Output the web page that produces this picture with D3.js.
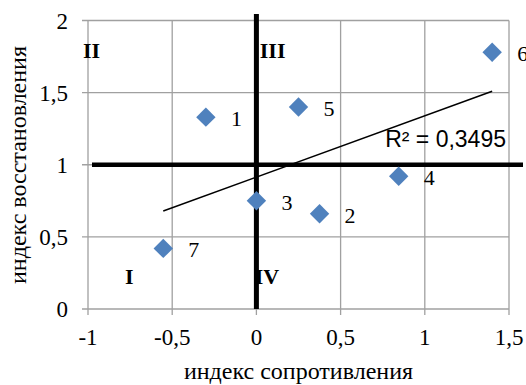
<!DOCTYPE html>
<html>
<head>
<meta charset="utf-8">
<script src="https://cdn.jsdelivr.net/npm/d3@7"></script>
<style>
  body { margin: 0; background: #fff; }
</style>
</head>
<body>
<div id="chart"></div>
<script>
// data
var ids  = ['1', '2', '3', '4', '5', '6', '7']
var xs   = [-0.30, 0.375, 0.0, 0.845, 0.25, 1.40, -0.553]
var ys   = [1.33, 0.66, 0.75, 0.92, 1.40, 1.78, 0.42]
var xTicks = [-1, -0.5, 0, 0.5, 1, 1.5]
var yTicks = [0, 0.5, 1, 1.5, 2]
var quadrants = ['I', 'II', 'III', 'IV']
var r2Label = 'R² = 0,3495'

var W = 526, H = 385
var margin = { top: 20.5, right: 17, bottom: 76, left: 88 }
var w = W - margin.left - margin.right
var h = H - margin.top - margin.bottom

var x = d3.scaleLinear().domain([-1, 1.5]).range([0, w])
var y = d3.scaleLinear().domain([0, 2]).range([h, 0])
var fmt = function (d) { return String(d).replace('.', ',') }
var serif = '"Liberation Serif", "Times New Roman", serif'

var svg = d3.select('#chart').append('svg')
    .attr('width', W)
    .attr('height', H)
    .attr('font-family', serif)
  .append('g')
    .attr('transform', 'translate(' + margin.left + ',' + margin.top + ')')

// grid
svg.selectAll('.gx').data(xTicks).enter().append('line')
    .attr('x1', function (d) { return x(d) }).attr('x2', function (d) { return x(d) })
    .attr('y1', 0).attr('y2', h + 6)
    .attr('stroke', '#a0a0a0').attr('stroke-width', 1.3)
svg.selectAll('.gy').data(yTicks).enter().append('line')
    .attr('y1', function (d) { return y(d) }).attr('y2', function (d) { return y(d) })
    .attr('x1', -6).attr('x2', w)
    .attr('stroke', '#a0a0a0').attr('stroke-width', 1.3)

// tick labels
svg.selectAll('.tx').data(xTicks).enter().append('text')
    .attr('x', function (d) { return x(d) })
    .attr('y', h + 36)
    .attr('text-anchor', 'middle')
    .attr('font-size', 23)
    .text(fmt)
svg.selectAll('.ty').data(yTicks).enter().append('text')
    .attr('x', -20)
    .attr('y', function (d) { return y(d) + 8 })
    .attr('text-anchor', 'end')
    .attr('font-size', 23)
    .text(fmt)

// axis titles
svg.append('text')
    .attr('x', x(0.25))
    .attr('y', h + 70)
    .attr('text-anchor', 'middle')
    .attr('font-size', 24)
    .text('индекс сопротивления')
svg.append('text')
    .attr('transform', 'translate(' + (26 - margin.left) + ',' + (165 - margin.top) + ') rotate(-90)')
    .attr('text-anchor', 'middle')
    .attr('font-size', 24)
    .text('индекс восстановления')

// quadrant labels
var qPos = { 'I': [-0.78, 0.17], 'II': [-1.03, 1.74], 'III': [0.02, 1.74], 'IV': [-0.01, 0.17] }
svg.selectAll('.q').data(quadrants).enter().append('text')
    .attr('x', function (d) { return x(qPos[d][0]) })
    .attr('y', function (d) { return y(qPos[d][1]) })
    .attr('font-size', 22)
    .attr('font-weight', 'bold')
    .text(function (d) { return d })

// quadrant axes
svg.append('line')
    .attr('x1', x(0)).attr('x2', x(0))
    .attr('y1', -6.5).attr('y2', h)
    .attr('stroke', '#000').attr('stroke-width', 5)
svg.append('line')
    .attr('x1', x(-1) + 4).attr('x2', w + 14)
    .attr('y1', y(1)).attr('y2', y(1))
    .attr('stroke', '#000').attr('stroke-width', 4.5)

// trend line (least squares)
var mx = d3.mean(xs), my = d3.mean(ys)
var sxy = d3.sum(xs, function (d, i) { return (d - mx) * (ys[i] - my) })
var sxx = d3.sum(xs, function (d) { return (d - mx) * (d - mx) })
var slope = sxy / sxx, icpt = my - slope * mx
var x0 = d3.min(xs), x1 = d3.max(xs)
svg.append('line')
    .attr('x1', x(x0)).attr('y1', y(icpt + slope * x0))
    .attr('x2', x(x1)).attr('y2', y(icpt + slope * x1))
    .attr('stroke', '#000').attr('stroke-width', 1.5)

svg.append('text')
    .attr('x', x(1.5) - 3)
    .attr('y', y(1) - 18)
    .attr('text-anchor', 'end')
    .attr('font-family', '"Liberation Sans", Arial, sans-serif')
    .attr('font-size', 23)
    .text(r2Label)

// points
var pts = ids.map(function (d, i) { return { id: d, x: xs[i], y: ys[i] } })
svg.selectAll('.pt').data(pts).enter().append('path')
    .attr('d', d3.symbol().type(d3.symbolDiamond2).size(240))
    .attr('transform', function (d) { return 'translate(' + x(d.x) + ',' + y(d.y) + ')' })
    .attr('fill', '#4f81bd')

svg.selectAll('.pl').data(pts).enter().append('text')
    .attr('x', function (d) { return x(d.x) + 25 })
    .attr('y', function (d) { return y(d.y) + 9 })
    .attr('font-size', 22)
    .text(function (d) { return d.id })
</script>
</body>
</html>
